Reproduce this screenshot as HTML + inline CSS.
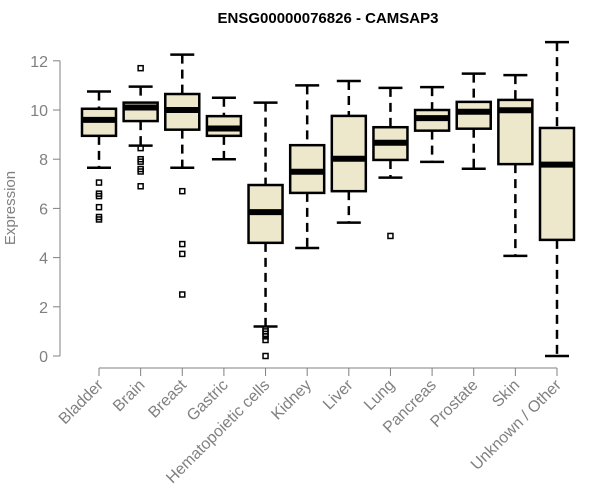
<!DOCTYPE html>
<html><head><meta charset="utf-8"><style>body{margin:0;background:#fff}svg{display:block}text{font-family:"Liberation Sans",Arial,sans-serif}</style></head>
<body>
<svg id="chart" width="600" height="500">
<text x="328" y="23" text-anchor="middle" font-size="15" font-weight="bold">ENSG00000076826 - CAMSAP3</text>
<text transform="translate(15,208) rotate(-90)" text-anchor="middle" font-size="15" fill="#808080">Expression</text>
<g id="axes"></g><g id="boxes"></g>
</svg>
<script>
const categories=["Bladder","Brain","Breast","Gastric","Hematopoietic cells","Kidney","Liver","Lung","Pancreas","Prostate","Skin","Unknown / Other"];
const whiskerLow=[7.65,8.55,7.65,8.0,1.2,4.39,5.42,7.25,7.89,7.61,4.07,0];
const q1=[8.95,9.55,9.2,8.95,4.6,6.63,6.7,7.97,9.16,9.24,7.8,4.72];
const medians=[9.6,10.1,10.0,9.25,5.85,7.49,8.02,8.67,9.67,9.93,9.99,7.78];
const q3=[10.05,10.3,10.65,9.75,6.95,8.57,9.76,9.3,10.0,10.33,10.41,9.27];
const whiskerHigh=[10.75,10.95,12.25,10.5,10.3,11.0,11.18,10.9,10.93,11.48,11.42,12.76];
const outliers=[[7.05,6.6,6.5,6.05,5.65,5.55],[11.7,8.45,8.0,7.9,7.6,7.5,6.9],[6.7,4.55,4.15,2.5],[],[1.1,1.0,0.9,0.8,0.65,0],[],[],[4.88],[],[],[],[]];
const yTicks=[0,2,4,6,8,10,12];
const NS="http://www.w3.org/2000/svg";
const y=v=>356-v*24.6;
const x=i=>99+i*(557-99)/11;
function mk(tag,attrs,parent){const e=document.createElementNS(NS,tag);for(const k in attrs)e.setAttribute(k,attrs[k]);parent.appendChild(e);return e;}
const ax=document.getElementById('axes'),bx=document.getElementById('boxes');
const yl=mk('line',{x1:60,x2:60,y1:y(0),y2:y(12),stroke:'#808080'},ax);


yTicks.forEach(t=>{
 const l=mk('line',{x1:53,x2:60,y1:y(t),y2:y(t),stroke:'#808080'},ax);
 
 
 const tx=mk('text',{x:48,y:y(t)+6,'text-anchor':'end','font-size':16,fill:'#808080'},ax);
 tx.textContent=t;
 
 
});
const xl=mk('line',{x1:x(0),x2:x(11),y1:368,y2:368,stroke:'#808080'},ax);


categories.forEach((c,i)=>{
 const cx=x(i);
 const t=mk('line',{x1:cx,x2:cx,y1:368,y2:376,stroke:'#808080'},ax);
 
 
 const tx=mk('text',{transform:`translate(${cx+5},386) rotate(-45)`,'text-anchor':'end','font-size':16,fill:'#808080'},ax);
 tx.textContent=c;
 
 
 const g=mk('g',{},bx);
 
 
 const w=17,cap=12;
 mk('line',{x1:cx,x2:cx,y1:y(whiskerHigh[i]),y2:y(q3[i]),stroke:'#000','stroke-width':2.5,'stroke-dasharray':'9,6'},g);
 mk('line',{x1:cx,x2:cx,y1:y(q1[i]),y2:y(whiskerLow[i]),stroke:'#000','stroke-width':2.5,'stroke-dasharray':'9,6'},g);
 mk('line',{x1:cx-cap,x2:cx+cap,y1:y(whiskerHigh[i]),y2:y(whiskerHigh[i]),stroke:'#000','stroke-width':2.5},g);
 mk('line',{x1:cx-cap,x2:cx+cap,y1:y(whiskerLow[i]),y2:y(whiskerLow[i]),stroke:'#000','stroke-width':2.5},g);
 mk('rect',{x:cx-w,y:y(q3[i]),width:2*w,height:y(q1[i])-y(q3[i]),fill:'#ede7cc',stroke:'#000','stroke-width':2.5},g);
 mk('line',{x1:cx-w,x2:cx+w,y1:y(medians[i]),y2:y(medians[i]),stroke:'#000','stroke-width':6},g);
 outliers[i].forEach(o=>{
  const p=mk('rect',{x:cx-2.5,y:y(o)-2.5,width:5,height:5,fill:'none',stroke:'#000','stroke-width':1.5},g);
  
  
 });
});
</script>
</body></html>
